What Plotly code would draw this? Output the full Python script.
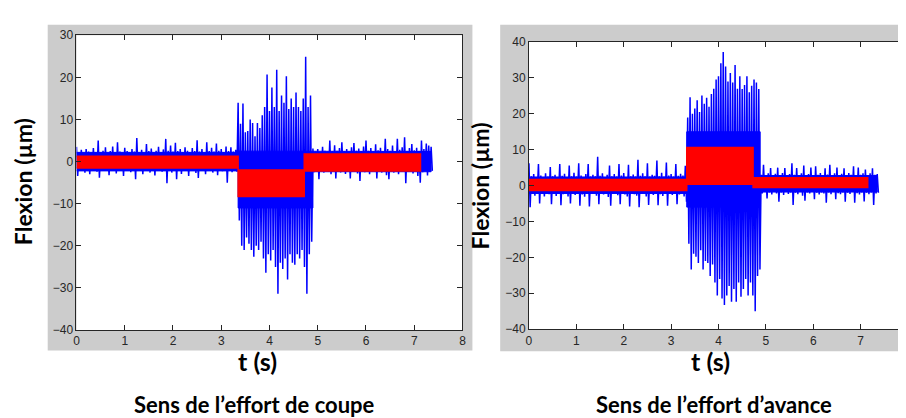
import numpy as np
import plotly.graph_objects as go

# ---------------- sample grids (s) ----------------
STEP = 0.05
t_before = np.round(np.arange(0, 67) * STEP, 2)           # 0.00 .. 3.30
t_cut = np.round(3.35 + np.arange(0, 31) * STEP, 2)       # 3.35 .. 4.85
t_after = np.round(4.90 + np.arange(0, 50) * STEP, 2)     # 4.90 .. 7.35

# ---------------- Sens de l'effort de coupe (left) : blue peaks ----------------
coupe_hi_before = [3.5, 2.2, 2.8, 2.0, 3.0, 2.4, 2.1, 3.2, 2.3, 5.0, 2.2, 2.6, 3.4, 2.0, 2.5, 3.6, 2.2,
                   4.6, 2.4, 2.1, 3.3, 2.5, 2.2, 3.0, 2.4, 5.6, 2.3, 2.8, 2.1, 4.2, 2.5, 3.1, 2.2, 2.6,
                   3.5, 2.3, 2.9, 5.4, 2.6, 3.8, 2.4, 4.5, 2.5, 3.0, 2.2, 3.4, 2.6, 2.3, 3.2, 2.5, 5.1,
                   2.4, 3.0, 2.2, 4.6, 2.5, 3.3, 2.4, 4.3, 2.6, 3.0, 2.3, 3.6, 2.5, 3.4, 2.4, 2.8]
coupe_lo_before = [-3.4, -2.0, -1.6, -2.6, -1.8, -3.0, -2.0, -1.7, -2.4, -3.8, -1.9, -2.2, -1.7, -3.2,
                   -2.0, -1.8, -2.8, -2.1, -1.9, -3.4, -2.0, -1.7, -2.5, -2.0, -4.2, -2.2, -1.8, -3.0,
                   -2.0, -1.9, -2.6, -1.8, -3.3, -2.0, -1.7, -2.4, -2.1, -5.1, -2.0, -2.6, -1.8, -4.2,
                   -2.0, -2.9, -1.8, -2.2, -3.4, -1.9, -2.1, -2.7, -3.9, -2.0, -1.8, -3.0, -2.2, -1.9,
                   -2.6, -2.0, -3.2, -1.8, -2.3, -1.9, -5.0, -2.1, -2.5, -1.9, -2.4]
coupe_hi_cut = [14.0, 9.0, 13.8, 7.0, 7.3, 10.0, 9.2, 6.0, 9.2, 8.0, 11.0, 13.0, 20.7, 12.0, 17.6, 13.0,
                21.8, 12.0, 15.7, 14.0, 20.3, 12.5, 15.0, 13.0, 16.4, 13.0, 12.0, 15.0, 24.9, 13.0, 15.7]
coupe_lo_cut = [-14.0, -20.0, -21.0, -18.0, -19.5, -21.0, -22.6, -20.0, -21.0, -19.0, -23.0, -26.4,
                -22.0, -23.5, -21.0, -25.0, -31.4, -24.0, -25.5, -23.0, -28.0, -22.0, -24.0, -24.5,
                -22.0, -23.0, -21.0, -25.0, -31.4, -22.0, -19.0]
coupe_hi_after = [3.1, 2.4, 3.0, 2.3, 3.5, 2.6, 2.4, 5.0, 2.5, 3.9, 2.6, 3.2, 4.6, 2.5, 3.0, 2.4, 3.4,
                  4.4, 2.6, 3.1, 2.5, 3.6, 5.0, 2.6, 3.2, 2.5, 4.1, 2.7, 3.3, 2.5, 5.4, 3.0, 2.6, 3.8,
                  2.5, 5.4, 2.8, 3.4, 5.8, 2.6, 3.2, 4.2, 2.7, 3.3, 2.6, 5.0, 3.0, 4.3, 3.8, 3.5]
coupe_lo_after = [-2.5, -2.0, -4.2, -2.2, -2.6, -1.9, -2.4, -3.0, -2.0, -4.0, -2.2, -2.6, -2.0, -2.9,
                  -2.1, -4.0, -2.3, -2.0, -2.8, -4.6, -2.2, -2.5, -2.0, -3.0, -2.2, -2.0, -4.0, -2.3,
                  -2.6, -2.0, -3.2, -4.2, -2.2, -2.6, -2.0, -3.0, -2.3, -2.1, -5.1, -2.4, -2.0, -2.8,
                  -2.2, -3.4, -5.0, -2.5, -2.2, -3.3, -2.4, -2.2]
# dense core of the blue (raw) signal: segment bounds (s) and levels
coupe_core_bounds = [0.0, 3.35, 4.90, 7.35]
coupe_core_hi = [2.2, 2.5, 2.4]
coupe_core_lo = [-2.2, -11.0, -2.4]
# red (filtered) signal: segment bounds (s) and band levels
coupe_red_bounds = [0.0, 3.35, 4.72, 7.13]
coupe_red_hi = [1.3, -2.0, 1.8]
coupe_red_lo = [-1.5, -8.3, -2.2]

# ---------------- Sens de l'effort d'avance (right) : blue peaks ----------------
avance_hi_before = [6.2, 2.6, 3.2, 2.4, 6.0, 2.8, 2.4, 3.4, 2.5, 5.2, 2.6, 3.0, 2.3, 6.0, 2.7, 3.3, 2.4,
                    5.6, 2.6, 3.6, 2.5, 6.2, 2.8, 2.4, 3.2, 6.0, 2.5, 3.0, 2.6, 8.0, 2.7, 3.4, 2.4, 3.0,
                    5.6, 2.6, 3.2, 2.5, 6.0, 2.8, 3.5, 2.4, 5.8, 2.6, 3.1, 2.5, 7.2, 2.7, 3.4, 2.6, 6.2,
                    2.5, 3.0, 2.7, 7.0, 2.6, 3.6, 2.5, 6.4, 2.8, 3.2, 2.5, 6.0, 2.7, 3.3, 2.8, 5.5]
avance_lo_before = [-6.0, -2.2, -2.8, -2.0, -5.0, -2.3, -3.0, -2.1, -2.4, -5.2, -2.2, -2.9, -2.0, -5.5,
                    -2.4, -2.1, -3.0, -5.0, -2.2, -2.6, -2.0, -5.6, -2.5, -3.1, -2.1, -5.8, -2.3, -2.0,
                    -2.8, -5.2, -2.2, -2.5, -2.0, -3.2, -5.6, -2.3, -2.1, -2.7, -5.2, -2.2, -2.5, -3.0,
                    -5.8, -2.1, -2.4, -2.8, -6.0, -2.2, -2.0, -3.0, -5.4, -2.3, -2.6, -2.1, -5.5, -2.4,
                    -2.9, -2.0, -5.6, -2.2, -2.6, -2.1, -5.2, -2.5, -2.2, -3.0, -4.5]
avance_hi_cut = [19.0, 24.6, 20.0, 21.5, 23.8, 20.5, 25.1, 22.8, 24.5, 22.0, 25.5, 27.0, 29.6, 30.5, 34.1,
                 37.2, 33.2, 29.0, 31.4, 28.7, 33.6, 27.0, 30.5, 26.9, 28.0, 30.5, 26.0, 27.8, 29.6,
                 28.7, 26.9]
avance_lo_cut = [-16.2, -23.4, -19.0, -19.8, -21.6, -18.0, -23.4, -21.0, -21.6, -25.2, -22.0, -27.0,
                 -30.6, -26.0, -31.5, -33.3, -30.6, -28.0, -32.4, -28.8, -32.4, -27.0, -31.0, -28.8,
                 -26.0, -30.6, -27.0, -30.6, -35.0, -25.2, -23.4]
avance_hi_after = [3.0, 5.8, 2.8, 3.4, 4.9, 2.9, 3.3, 5.0, 2.8, 3.5, 4.9, 2.9, 3.2, 6.2, 3.0, 4.9, 2.8,
                   3.4, 5.6, 2.9, 3.2, 5.0, 2.8, 5.4, 3.0, 3.5, 2.9, 4.8, 3.1, 5.8, 2.8, 3.4, 5.0, 2.9,
                   3.3, 4.8, 2.8, 3.5, 3.0, 5.4, 2.9, 5.0, 3.0, 3.4, 4.5, 2.9, 3.4, 4.8, 3.0, 3.2]
avance_lo_after = [-2.2, -1.8, -3.6, -1.9, -2.5, -1.8, -2.2, -4.5, -1.9, -2.6, -1.8, -2.3, -1.9, -5.4,
                   -2.0, -2.4, -1.8, -2.8, -4.2, -1.9, -2.2, -1.8, -3.8, -2.0, -2.5, -1.9, -2.2, -4.8,
                   -1.9, -2.4, -1.8, -3.8, -2.1, -2.4, -1.9, -4.5, -2.0, -2.3, -1.8, -4.8, -2.1, -2.5,
                   -1.9, -4.4, -2.0, -2.4, -1.9, -5.4, -2.2, -2.0]
avance_core_bounds = [0.0, 3.33, 4.88, 7.35]
avance_core_hi = [2.4, 15.0, 2.8]
avance_core_lo = [-2.2, -6.0, -1.8]
avance_red_bounds = [0.0, 3.33, 4.73, 7.15]
avance_red_hi = [1.7, 10.6, 2.2]
avance_red_lo = [-1.4, 0.4, -0.5]

# ---------------- labels ----------------
x_ticks = [0, 1, 2, 3, 4, 5, 6, 7, 8]
y_ticks_coupe = [-40, -30, -20, -10, 0, 10, 20, 30]
y_ticks_avance = [-40, -30, -20, -10, 0, 10, 20, 30, 40]
y_title = "Flexion (µm)"
x_title = "t (s)"
captions = ["Sens de l’effort de coupe", "Sens de l’effort d’avance"]

W, H = 906, 418
BLUE = "#0000FF"
RED = "#FF0000"
AXC = "#262626"


def zigzag(ts, his, los):
    xs, ys = [], []
    for t, h, l in zip(ts, his, los):
        xs += [float(t), float(t) + STEP / 2]
        ys += [h, l]
    return xs, ys


def band(bounds, his, los):
    xs, ys = [], []
    for i in range(len(his)):
        xs += [bounds[i], bounds[i + 1]]
        ys += [his[i], his[i]]
    for i in reversed(range(len(los))):
        xs += [bounds[i + 1], bounds[i]]
        ys += [los[i], los[i]]
    return xs, ys


fig = go.Figure()

panels = [
    dict(xa="x", ya="y",
         t=[t_before, t_cut, t_after],
         hi=[coupe_hi_before, coupe_hi_cut, coupe_hi_after],
         lo=[coupe_lo_before, coupe_lo_cut, coupe_lo_after],
         cb=coupe_core_bounds, ch=coupe_core_hi, cl=coupe_core_lo,
         rb=coupe_red_bounds, rh=coupe_red_hi, rl=coupe_red_lo),
    dict(xa="x2", ya="y2",
         t=[t_before, t_cut, t_after],
         hi=[avance_hi_before, avance_hi_cut, avance_hi_after],
         lo=[avance_lo_before, avance_lo_cut, avance_lo_after],
         cb=avance_core_bounds, ch=avance_core_hi, cl=avance_core_lo,
         rb=avance_red_bounds, rh=avance_red_hi, rl=avance_red_lo),
]

for p in panels:
    cx_, cy_ = band(p["cb"], p["ch"], p["cl"])
    fig.add_trace(go.Scatter(x=cx_, y=cy_, mode="lines", fill="toself", fillcolor=BLUE,
                             line=dict(color=BLUE, width=1),
                             xaxis=p["xa"], yaxis=p["ya"], showlegend=False, hoverinfo="skip"))
    ts = np.concatenate(p["t"])
    his = sum(p["hi"], [])
    los = sum(p["lo"], [])
    bx, by = zigzag(ts, his, los)
    fig.add_trace(go.Scatter(x=bx, y=by, mode="lines", line=dict(color=BLUE, width=1.5),
                             xaxis=p["xa"], yaxis=p["ya"], showlegend=False, hoverinfo="skip"))
    rx, ry = band(p["rb"], p["rh"], p["rl"])
    fig.add_trace(go.Scatter(x=rx, y=ry, mode="lines", fill="toself", fillcolor=RED,
                             line=dict(color=RED, width=1.5),
                             xaxis=p["xa"], yaxis=p["ya"], showlegend=False, hoverinfo="skip"))


def px_x(v):
    return v / W


def px_y(v):
    return 1 - v / H


# axis geometry (pixels)
L1, R1, T1, B1 = 66, 455, 21, 326
L2, R2, T2, B2 = 522, 904, 28, 325

axis_common = dict(showline=True, linecolor=AXC, linewidth=1, mirror="ticks", ticks="inside",
                   ticklen=5, tickcolor=AXC, showgrid=False, zeroline=False,
                   tickfont=dict(family="Liberation Sans, Arial", size=12, color=AXC))

fig.update_layout(
    width=W, height=H, margin=dict(l=0, r=0, t=0, b=0),
    paper_bgcolor="white", plot_bgcolor="rgba(0,0,0,0)",
    xaxis=dict(domain=[px_x(L1), px_x(R1)], range=[0, 8], tickvals=x_ticks, anchor="y", **axis_common),
    yaxis=dict(domain=[px_y(B1), px_y(T1)], range=[-40, 30], tickvals=y_ticks_coupe, anchor="x",
               **axis_common),
    xaxis2=dict(domain=[px_x(L2), px_x(R2)], range=[0, 8], tickvals=x_ticks, anchor="y2", **axis_common),
    yaxis2=dict(domain=[px_y(B2), px_y(T2)], range=[-40, 40], tickvals=y_ticks_avance, anchor="x2",
                **axis_common),
)

shapes = []
for (x0, y0, x1, y1, c) in [(37, 10, 465, 347, "#CCCCCC"), (493, 10, 906, 348, "#CCCCCC"),
                            (L1, T1, R1, B1, "white"), (L2, T2, R2, B2, "white")]:
    shapes.append(dict(type="rect", xref="paper", yref="paper", x0=px_x(x0), x1=px_x(x1),
                       y0=px_y(y1), y1=px_y(y0), fillcolor=c, line=dict(width=0), layer="below"))
fig.update_layout(shapes=shapes)

TF = "Lato, Open Sans, sans-serif"
ann = []
for (cx, cy) in [(12, 172), (473, 177)]:
    ann.append(dict(x=px_x(cx), y=px_y(cy), xref="paper", yref="paper", text="<b>%s</b>" % y_title,
                    textangle=-90, showarrow=False, xanchor="center", yanchor="middle",
                    font=dict(family=TF, size=23, color="black")))
for cx in [248, 705]:
    ann.append(dict(x=px_x(cx), y=px_y(358), xref="paper", yref="paper", text="<b>%s</b>" % x_title,
                    showarrow=False, xanchor="center", yanchor="middle",
                    font=dict(family=TF, size=25, color="black")))
for cx, txt in zip([245, 708], captions):
    ann.append(dict(x=px_x(cx), y=px_y(403), xref="paper", yref="paper", text="<b>%s</b>" % txt,
                    showarrow=False, xanchor="center", yanchor="middle",
                    font=dict(family=TF, size=22, color="black")))
fig.update_layout(annotations=ann)

fig.write_html("out.html")
